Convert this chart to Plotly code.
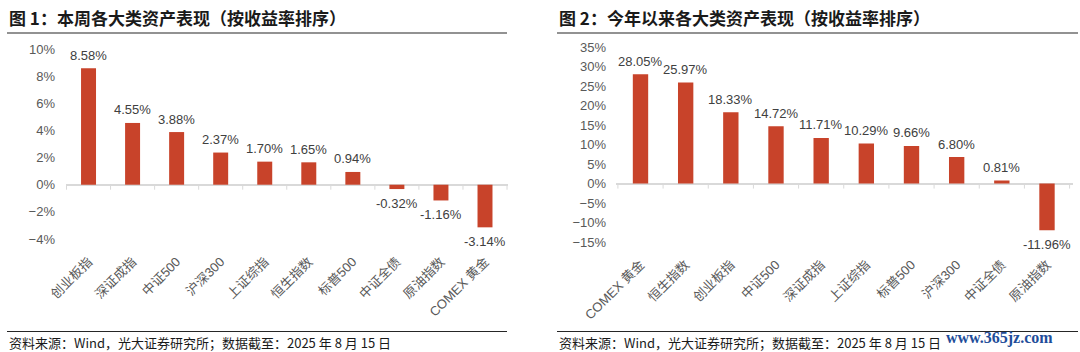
import plotly.graph_objects as go

# ---- data ----
week_cats = ["创业板指", "深证成指", "中证500", "沪深300", "上证综指", "恒生指数", "标普500", "中证全债", "原油指数", "COMEX 黄金"]
week_vals = [8.58, 4.55, 3.88, 2.37, 1.70, 1.65, 0.94, -0.32, -1.16, -3.14]

ytd_cats = ["COMEX 黄金", "恒生指数", "创业板指", "中证500", "深证成指", "上证综指", "标普500", "沪深300", "中证全债", "原油指数"]
ytd_vals = [28.05, 25.97, 18.33, 14.72, 11.71, 10.29, 9.66, 6.80, 0.81, -11.96]

title1 = "图 1：本周各大类资产表现（按收益率排序）"
title2 = "图 2：今年以来各大类资产表现（按收益率排序）"
source = "资料来源：Wind，光大证券研究所；数据截至：2025 年 8 月 15 日"
watermark = "www.365jz.com"

W, H = 1080, 352
BAR = "#C8432A"
LAT = "Liberation Sans, Arial, Noto Sans CJK SC"
CJK = "Noto Sans CJK SC"

def px(x):
    return x / W

def py(y):
    return 1 - y / H

fig = go.Figure()
ann = []

for cats, vals, xa, ya in ((week_cats, week_vals, "x", "y"), (ytd_cats, ytd_vals, "x2", "y2")):
    fig.add_trace(go.Bar(
        x=cats, y=vals, xaxis=xa, yaxis=ya,
        marker=dict(color=BAR, line=dict(width=0)),
        showlegend=False, hoverinfo="x+y",
    ))
    for c, v in zip(cats, vals):
        ann.append(dict(text=f"{v:.2f}%", x=c, y=v, xref=xa, yref=ya,
                        xanchor="center", yanchor="middle", showarrow=False,
                        yshift=13 if v >= 0 else -14,
                        font=dict(family=LAT, size=13, color="#404040")))

axis_common_x = dict(
    type="category", showgrid=False, showline=False, zeroline=False,
    ticks="outside", ticklen=9, tickcolor="rgba(0,0,0,0)",
    tickangle=-45, automargin=False,
    tickfont=dict(family=LAT, size=13, color="#595959"),
)
axis_common_y = dict(
    showgrid=False, showline=False, ticks="", automargin=False,
    zeroline=True, zerolinecolor="#D9D9D9", zerolinewidth=1.5,
    ticksuffix="%", tickfont=dict(family=LAT, size=13, color="#595959"),
)

fig.update_layout(
    width=W, height=H,
    margin=dict(l=0, r=0, t=0, b=0, autoexpand=False),
    paper_bgcolor="white", plot_bgcolor="white",
    bargap=0.66,
    xaxis=dict(domain=[px(66), px(508)], anchor="y", **axis_common_x),
    yaxis=dict(domain=[py(239), py(49)], anchor="x", range=[-4, 10], dtick=2,
               ticklabelstandoff=10, **axis_common_y),
    xaxis2=dict(domain=[px(616), px(1073)], anchor="y2", **axis_common_x),
    yaxis2=dict(domain=[py(242), py(47.3)], anchor="x2", range=[-15, 35], dtick=5,
                ticklabelstandoff=9, **axis_common_y),
)

shapes = []
# category boundary tick marks on the zero line
for xr, yr, n in (("x", "y", len(week_cats)), ("x2", "y2", len(ytd_cats))):
    for i in range(n + 1):
        shapes.append(dict(type="line", xref=xr, yref=yr, x0=i - 0.5, x1=i - 0.5,
                           ysizemode="pixel", yanchor=0, y0=0, y1=-5,
                           line=dict(color="#D9D9D9", width=1)))
# title rules and footer rules
for x0, x1 in ((7, 507), (557, 1078)):
    shapes.append(dict(type="line", xref="paper", yref="paper", x0=px(x0), x1=px(x1),
                       y0=py(33), y1=py(33), line=dict(color="#6E6E6E", width=1.5)))
    shapes.append(dict(type="line", xref="paper", yref="paper", x0=px(x0), x1=px(x1),
                       y0=py(331.5), y1=py(331.5), line=dict(color="#262626", width=1)))
fig.update_layout(shapes=shapes)

for x, t in ((7, title1), (557, title2)):
    ann.append(dict(text=f"<b>{t}</b>", x=px(x), y=py(17), xref="paper", yref="paper",
                    xanchor="left", yanchor="middle", showarrow=False,
                    font=dict(family=CJK, size=17, color="#1A1A1A")))
    ann.append(dict(text=source, x=px(x), y=py(342.5), xref="paper", yref="paper",
                    xanchor="left", yanchor="middle", showarrow=False,
                    font=dict(family=CJK, size=13, color="#1A1A1A")))
ann.append(dict(text=f"<b>{watermark}</b>", x=px(1055), y=py(338), xref="paper", yref="paper",
                xanchor="right", yanchor="middle", showarrow=False,
                font=dict(family="Liberation Serif, DejaVu Serif", size=16, color="#1F4E9A")))
fig.update_layout(annotations=ann)

fig.write_html("out.html")
